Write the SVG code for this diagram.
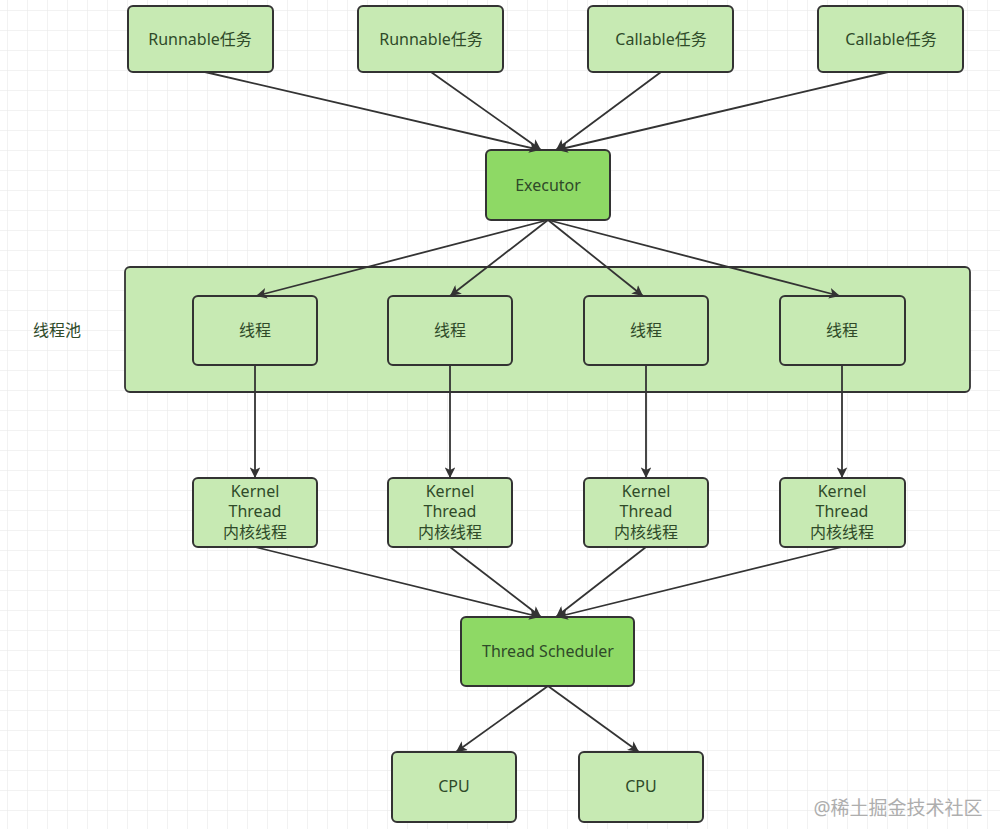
<svg xmlns="http://www.w3.org/2000/svg" width="1000" height="829" viewBox="0 0 1000 829">
<defs>
<pattern id="grid" x="7" y="10" width="20" height="20" patternUnits="userSpaceOnUse">
<path d="M0 0H20M0 0V20" fill="none" stroke="#e6e6e6" stroke-width="1"/>
</pattern>
<marker id="arr" viewBox="0 0 10 10" refX="10" refY="5" markerWidth="6" markerHeight="6" orient="auto" markerUnits="strokeWidth">
<path d="M0 0L10 5L0 10L2.5 5Z" fill="#333"/>
</marker>
<style>
.box{fill:#c7eab3;stroke:#333;stroke-width:2}
.dark{fill:#8ed965;stroke:#333;stroke-width:2}
.pool{fill:#c7eab3;stroke:#333;stroke-width:1.8}
text{font-family:"Noto Sans","Noto Sans CJK SC",sans-serif;font-size:16px;fill:#2f4a29;text-anchor:middle;dominant-baseline:central}
.conn line{stroke:#333;stroke-width:1.8;marker-end:url(#arr)}
</style>
</defs>
<rect width="1000" height="829" fill="#fff"/>
<rect width="1000" height="829" fill="url(#grid)"/>

<g id="pool">
<rect class="pool" x="125" y="267" width="845" height="125" rx="5"/>
</g>
<g id="pool-label"><text x="57" y="330">线程池</text></g>

<g id="task1"><rect class="box" x="128" y="6" width="145" height="66" rx="5"/><text x="200" y="39">Runnable任务</text></g>
<g id="task2"><rect class="box" x="358" y="6" width="145" height="66" rx="5"/><text x="431" y="39">Runnable任务</text></g>
<g id="task3"><rect class="box" x="588" y="6" width="145" height="66" rx="5"/><text x="661" y="39">Callable任务</text></g>
<g id="task4"><rect class="box" x="818" y="6" width="145" height="66" rx="5"/><text x="891" y="39">Callable任务</text></g>

<g id="executor"><rect class="dark" x="486" y="150" width="124" height="70" rx="5"/><text x="548" y="185">Executor</text></g>

<g id="thread1"><rect class="box" x="193" y="296" width="124" height="69" rx="5"/><text x="255" y="330">线程</text></g>
<g id="thread2"><rect class="box" x="388" y="296" width="124" height="69" rx="5"/><text x="450" y="330">线程</text></g>
<g id="thread3"><rect class="box" x="584" y="296" width="124" height="69" rx="5"/><text x="646" y="330">线程</text></g>
<g id="thread4"><rect class="box" x="780" y="296" width="125" height="69" rx="5"/><text x="842" y="330">线程</text></g>

<g id="kernel1"><rect class="box" x="193" y="478" width="124" height="69" rx="5"/><text x="255" y="491">Kernel</text><text x="255" y="511">Thread</text><text x="255" y="532">内核线程</text></g>
<g id="kernel2"><rect class="box" x="388" y="478" width="124" height="69" rx="5"/><text x="450" y="491">Kernel</text><text x="450" y="511">Thread</text><text x="450" y="532">内核线程</text></g>
<g id="kernel3"><rect class="box" x="584" y="478" width="124" height="69" rx="5"/><text x="646" y="491">Kernel</text><text x="646" y="511">Thread</text><text x="646" y="532">内核线程</text></g>
<g id="kernel4"><rect class="box" x="780" y="478" width="125" height="69" rx="5"/><text x="842" y="491">Kernel</text><text x="842" y="511">Thread</text><text x="842" y="532">内核线程</text></g>

<g id="scheduler"><rect class="dark" x="461" y="617" width="173" height="69" rx="5"/><text x="548" y="651">Thread Scheduler</text></g>

<g id="cpu1"><rect class="box" x="392" y="752" width="124" height="70" rx="5"/><text x="454" y="786">CPU</text></g>
<g id="cpu2"><rect class="box" x="579" y="752" width="124" height="70" rx="5"/><text x="641" y="786">CPU</text></g>

<g class="conn" id="connectors">
<line x1="205" y1="72" x2="540" y2="150"/>
<line x1="431" y1="72" x2="541" y2="150"/>
<line x1="661" y1="72" x2="556" y2="150"/>
<line x1="888" y1="72" x2="557" y2="150"/>
<line x1="548" y1="220" x2="256" y2="296"/>
<line x1="548" y1="220" x2="450" y2="296"/>
<line x1="548" y1="220" x2="643" y2="296"/>
<line x1="548" y1="220" x2="840" y2="296"/>
<line x1="255" y1="365" x2="255" y2="478"/>
<line x1="450" y1="365" x2="450" y2="478"/>
<line x1="646" y1="365" x2="646" y2="478"/>
<line x1="842" y1="365" x2="842" y2="478"/>
<line x1="255" y1="547" x2="540" y2="617"/>
<line x1="450" y1="547" x2="541" y2="617"/>
<line x1="646" y1="547" x2="556" y2="617"/>
<line x1="842" y1="547" x2="557" y2="617"/>
<line x1="548" y1="686" x2="456" y2="752"/>
<line x1="548" y1="686" x2="639" y2="752"/>
</g>

<g id="watermark"><text x="898" y="808" style="font-size:19px;fill:#9a9a9a;opacity:0.8">@稀土掘金技术社区</text></g>
</svg>
